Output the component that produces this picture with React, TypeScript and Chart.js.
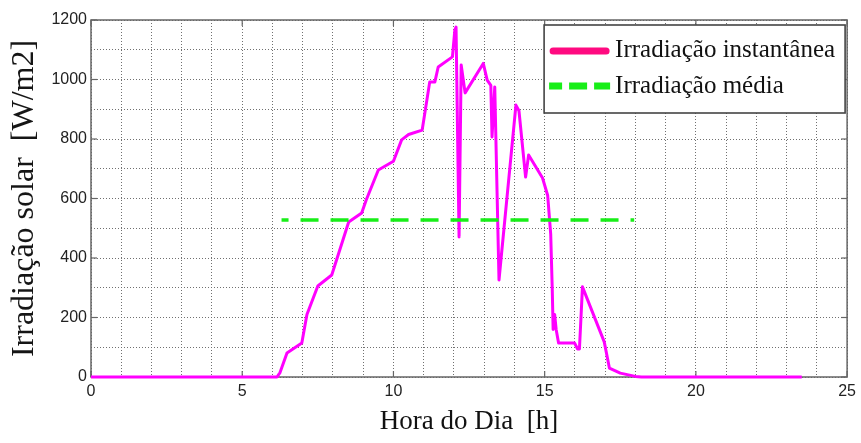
import React, { useEffect, useRef } from 'react';
import { Chart, registerables } from 'chart.js';

Chart.register(...registerables);

// ---- data ----
const hours = [
  0, 6.15, 6.25, 6.48, 6.97, 7.14, 7.5, 7.96, 8.52, 8.95, 9.1, 9.5, 10.0, 10.27, 10.5, 10.95,
  11.2, 11.37, 11.48, 11.95, 12.03, 12.07, 12.17, 12.24, 12.37, 12.97, 13.1, 13.22, 13.26, 13.35,
  13.49, 14.05, 14.15, 14.37, 14.47, 14.93, 15.1, 15.2, 15.25, 15.28, 15.33, 15.38, 15.46, 15.99,
  16.09, 16.15, 16.25, 16.97, 17.14, 17.5, 18.0, 18.2, 23.5,
];
const irradiance = [
  0, 0, 15, 81, 114, 210, 306, 343, 521, 551, 595, 696, 725, 797, 815, 830,
  992, 992, 1042, 1076, 1166, 1176, 471, 1049, 955, 1054, 998, 980, 807, 975,
  326, 914, 895, 672, 746, 669, 610, 480, 300, 160, 210, 160, 114, 114,
  94, 94, 303, 118, 30, 13, 2, 0, 0,
];
const meanHours = [6.3, 17.96];
const meanValues = [528, 528];

const xTickLabels = [0, 5, 10, 15, 20, 25];
const yTickLabels = [0, 200, 400, 600, 800, 1000, 1200];
const seriesNames = ['Irradiação instantânea', 'Irradiação média'];
const xTitle = 'Hora do Dia  [h]';
const yTitle = 'Irradiação solar  [W/m2]';

const MAGENTA = '#ff00ff';
const LEGEND_PINK = '#ff0a80';
const GREEN = '#18ee18';

const framePlugin = {
  id: 'matlabFrame',
  beforeDatasetsDraw(chart: any) {
    const { ctx, chartArea: a, scales } = chart;
    ctx.save();
    ctx.strokeStyle = '#666';
    ctx.lineWidth = 1.5;
    ctx.setLineDash([]);
    ctx.strokeRect(a.left, a.top, a.right - a.left, a.bottom - a.top);
    ctx.lineWidth = 1.2;
    const seg = (x1: number, y1: number, x2: number, y2: number) => {
      ctx.beginPath();
      ctx.moveTo(x1, y1);
      ctx.lineTo(x2, y2);
      ctx.stroke();
    };
    xTickLabels.forEach((v) => {
      const x = scales.x.getPixelForValue(v);
      seg(x, a.bottom, x, a.bottom - 6);
      seg(x, a.top, x, a.top + 6);
    });
    yTickLabels.forEach((v) => {
      const y = scales.y.getPixelForValue(v);
      seg(a.left, y, a.left + 6, y);
      seg(a.right, y, a.right - 6, y);
    });
    ctx.restore();
  },
  afterDraw(chart: any) {
    const { ctx, chartArea: a } = chart;
    const bx = a.right - 303;
    const by = a.top + 5;
    const bw = 301;
    const bh = 88;
    ctx.save();
    ctx.fillStyle = '#fff';
    ctx.fillRect(bx, by, bw, bh);
    ctx.strokeStyle = '#444';
    ctx.lineWidth = 1.6;
    ctx.setLineDash([]);
    ctx.strokeRect(bx, by, bw, bh);

    // entry 1
    const y1 = by + 26;
    ctx.strokeStyle = LEGEND_PINK;
    ctx.lineWidth = 7;
    ctx.lineCap = 'round';
    ctx.beginPath();
    ctx.moveTo(bx + 9, y1);
    ctx.lineTo(bx + 62, y1);
    ctx.stroke();

    // entry 2
    const y2 = by + 61;
    ctx.strokeStyle = GREEN;
    ctx.lineCap = 'butt';
    ctx.setLineDash([13, 7, 18, 7, 16]);
    ctx.beginPath();
    ctx.moveTo(bx + 5, y2);
    ctx.lineTo(bx + 66, y2);
    ctx.stroke();
    ctx.setLineDash([]);

    ctx.fillStyle = '#111';
    ctx.font = '25px "Liberation Serif", "Times New Roman", serif';
    ctx.textBaseline = 'middle';
    ctx.textAlign = 'left';
    ctx.fillText(seriesNames[0], bx + 71, y1 - 1);
    ctx.fillText(seriesNames[1], bx + 71, y2);
    ctx.restore();
  },
};

export default function App() {
  const ref = useRef<HTMLCanvasElement | null>(null);

  useEffect(() => {
    if (!ref.current) return;
    const chart = new Chart(ref.current, {
      type: 'line',
      data: {
        datasets: [
          {
            label: seriesNames[1],
            data: meanHours.map((h, i) => ({ x: h, y: meanValues[i] })),
            borderColor: GREEN,
            borderWidth: 3.5,
            borderDash: [18, 12],
            borderDashOffset: 11,
            pointRadius: 0,
            tension: 0,
            clip: false as any,
            order: 0,
          },
          {
            label: seriesNames[0],
            data: hours.map((h, i) => ({ x: h, y: irradiance[i] })),
            borderColor: MAGENTA,
            borderWidth: 3,
            borderJoinStyle: 'round',
            pointRadius: 0,
            tension: 0,
            clip: false as any,
            order: 1,
          },
        ],
      },
      options: {
        responsive: false,
        animation: false,
        devicePixelRatio: 1,
        layout: { padding: { top: 20, right: 10, left: 0, bottom: 0 } },
        plugins: { legend: { display: false }, tooltip: { enabled: false } },
        scales: {
          x: {
            type: 'linear',
            min: 0,
            max: 25,
            afterFit: (s: any) => {
              s.height = 66;
            },
            ticks: {
              stepSize: 1,
              autoSkip: false,
              maxRotation: 0,
              padding: 5,
              color: '#222',
              font: { family: '"Liberation Sans", Arial, sans-serif', size: 16 },
              callback: (v: any) => (xTickLabels.includes(Number(v)) ? String(v) : ''),
            },
            grid: { color: '#707070', lineWidth: 1, drawTicks: false, tickLength: 0 },
            border: { display: false, dash: [1, 2] },
            title: {
              display: true,
              text: xTitle,
              color: '#111',
              font: { family: '"Liberation Serif", "Times New Roman", serif', size: 27, lineHeight: 1 },
              padding: { top: 0, bottom: 8 },
            },
          },
          y: {
            type: 'linear',
            min: 0,
            max: 1200,
            afterFit: (s: any) => {
              s.width = 91;
            },
            ticks: {
              stepSize: 100,
              autoSkip: false,
              padding: 4,
              color: '#222',
              font: { family: '"Liberation Sans", Arial, sans-serif', size: 16 },
              callback: (v: any) => (yTickLabels.includes(Number(v)) ? String(v) : ''),
            },
            grid: { color: '#707070', lineWidth: 1, drawTicks: false, tickLength: 0 },
            border: { display: false, dash: [1, 2] },
            title: {
              display: true,
              text: yTitle,
              color: '#151515',
              font: { family: '"Liberation Serif", "Times New Roman", serif', size: 32, lineHeight: 1 },
              padding: { top: 9, bottom: 0 },
            },
          },
        },
      },
      plugins: [framePlugin],
    });
    return () => chart.destroy();
  }, []);

  return (
    <div style={{ position: 'fixed', left: 0, top: 0, width: 861, height: 443, background: '#fff' }}>
      <canvas ref={ref} width={861} height={443} style={{ display: 'block' }} />
    </div>
  );
}
